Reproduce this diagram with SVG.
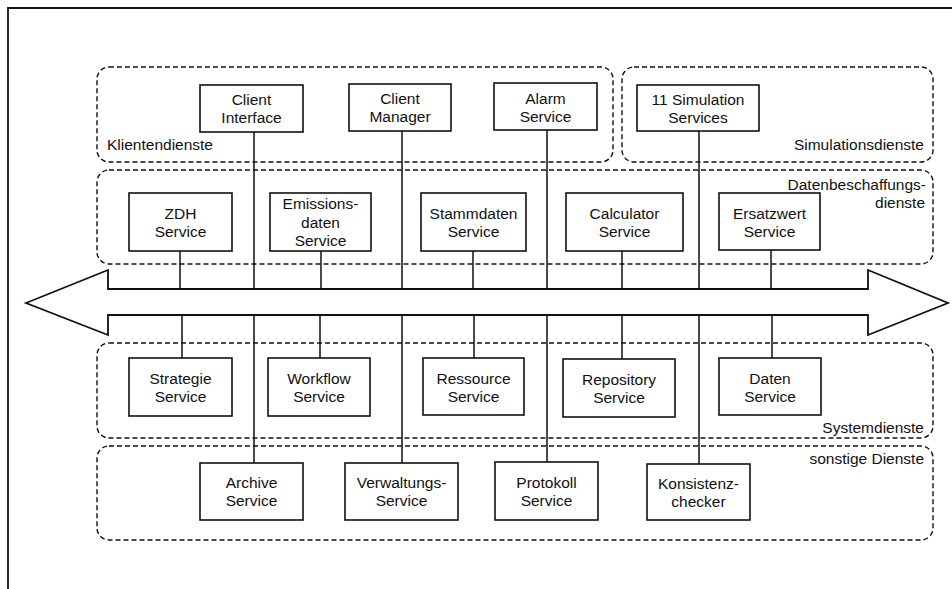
<svg xmlns="http://www.w3.org/2000/svg" width="952" height="589" viewBox="0 0 952 589">
<style>
.frame{fill:none;stroke:#111;stroke-width:1.8}
.grp{fill:none;stroke:#111;stroke-width:1.4;stroke-dasharray:5 3}
.box{fill:#fff;stroke:#111;stroke-width:1.6}
.ln{stroke:#111;stroke-width:1.5;fill:none}
.arrow{fill:#fff;stroke:#111;stroke-width:1.8;stroke-linejoin:miter}
text{font-family:"Liberation Sans",Arial,sans-serif;font-size:15.5px;fill:#111}
.c{text-anchor:middle}
.r{text-anchor:end}
</style>
<rect width="952" height="589" fill="#fff"/>
<path class="frame" d="M8,589 L8,8 L952,8"/>

<g id="groups">
<g id="g-klienten"><rect class="grp" x="97" y="67" width="516" height="95" rx="12"/><text x="107" y="150">Klientendienste</text></g>
<g id="g-simulation"><rect class="grp" x="622" y="67" width="311" height="95" rx="12"/><text class="r" x="924" y="150">Simulationsdienste</text></g>
<g id="g-daten"><rect class="grp" x="97" y="170" width="836" height="94" rx="12"/><text class="r" x="926" y="190">Datenbeschaffungs-</text><text class="r" x="925" y="208">dienste</text></g>
<g id="g-system"><rect class="grp" x="97" y="343" width="836" height="95" rx="12"/><text class="r" x="924" y="433">Systemdienste</text></g>
<g id="g-sonstige"><rect class="grp" x="97" y="446" width="836" height="94" rx="12"/><text class="r" x="924" y="464">sonstige Dienste</text></g>
</g>

<g id="bus"><polygon class="arrow" points="26,303 108,270 108,289 868,289 868,270 948,303 868,335 868,315 108,315 108,335"/></g>

<g id="connectors">
<path class="ln" d="M254,132V289M254,315V463M402,131V289M402,315V463M547,130V289M547,315V462M699,131V289M699,315V464"/>
<path class="ln" d="M180,251V289M321,251V289M473,251V289M622,251V289M771,250V289"/>
<path class="ln" d="M182,315V358M320,315V358M474,315V358M622,315V359M772,315V358"/>
</g>

<g id="n-client-interface"><rect class="box" x="200" y="85" width="103" height="47"/><text class="c" x="251.5" y="105">Client</text><text class="c" x="251.5" y="123">Interface</text></g>
<g id="n-client-manager"><rect class="box" x="349" y="84" width="102" height="47"/><text class="c" x="400" y="104">Client</text><text class="c" x="400" y="122">Manager</text></g>
<g id="n-alarm"><rect class="box" x="494" y="83" width="103" height="47"/><text class="c" x="545.5" y="104">Alarm</text><text class="c" x="545.5" y="122">Service</text></g>
<g id="n-simulation"><rect class="box" x="637" y="85" width="122" height="46"/><text class="c" x="698" y="105">11 Simulation</text><text class="c" x="698" y="123">Services</text></g>

<g id="n-zdh"><rect class="box" x="129" y="193" width="103" height="58"/><text class="c" x="180.5" y="219">ZDH</text><text class="c" x="180.5" y="237">Service</text></g>
<g id="n-emissions"><rect class="box" x="270" y="193" width="101" height="58"/><text class="c" x="320.5" y="209">Emissions-</text><text class="c" x="320.5" y="228">daten</text><text class="c" x="320.5" y="246">Service</text></g>
<g id="n-stammdaten"><rect class="box" x="421" y="193" width="105" height="58"/><text class="c" x="473.5" y="219">Stammdaten</text><text class="c" x="473.5" y="237">Service</text></g>
<g id="n-calculator"><rect class="box" x="566" y="193" width="117" height="58"/><text class="c" x="624.5" y="219">Calculator</text><text class="c" x="624.5" y="237">Service</text></g>
<g id="n-ersatzwert"><rect class="box" x="719" y="193" width="101" height="57"/><text class="c" x="769.5" y="219">Ersatzwert</text><text class="c" x="769.5" y="237">Service</text></g>

<g id="n-strategie"><rect class="box" x="129" y="358" width="103" height="58"/><text class="c" x="180.5" y="384">Strategie</text><text class="c" x="180.5" y="402">Service</text></g>
<g id="n-workflow"><rect class="box" x="268" y="358" width="102" height="58"/><text class="c" x="319" y="384">Workflow</text><text class="c" x="319" y="402">Service</text></g>
<g id="n-ressource"><rect class="box" x="423" y="358" width="101" height="57"/><text class="c" x="473.5" y="384">Ressource</text><text class="c" x="473.5" y="402">Service</text></g>
<g id="n-repository"><rect class="box" x="563" y="359" width="112" height="58"/><text class="c" x="619" y="385">Repository</text><text class="c" x="619" y="403">Service</text></g>
<g id="n-daten"><rect class="box" x="719" y="358" width="102" height="57"/><text class="c" x="770" y="384">Daten</text><text class="c" x="770" y="402">Service</text></g>

<g id="n-archive"><rect class="box" x="200" y="463" width="103" height="57"/><text class="c" x="251.5" y="488">Archive</text><text class="c" x="251.5" y="506">Service</text></g>
<g id="n-verwaltung"><rect class="box" x="345" y="463" width="113" height="57"/><text class="c" x="401.5" y="488">Verwaltungs-</text><text class="c" x="401.5" y="506">Service</text></g>
<g id="n-protokoll"><rect class="box" x="495" y="462" width="103" height="58"/><text class="c" x="546.5" y="488">Protokoll</text><text class="c" x="546.5" y="506">Service</text></g>
<g id="n-konsistenz"><rect class="box" x="647" y="464" width="103" height="56"/><text class="c" x="698.5" y="489">Konsistenz-</text><text class="c" x="698.5" y="507">checker</text></g>
</svg>
